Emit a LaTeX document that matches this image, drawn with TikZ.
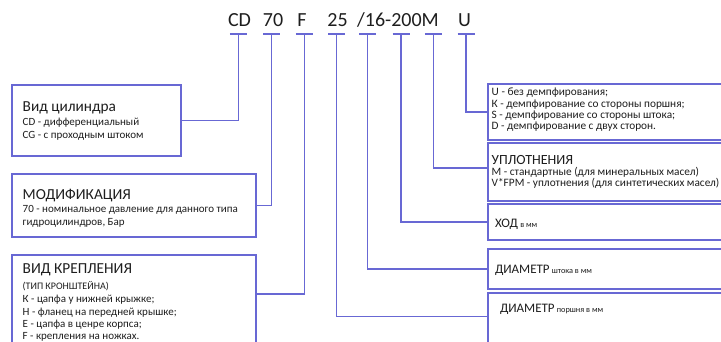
\documentclass[tikz,border=0pt]{standalone}
\usepackage{fontspec}
\setmainfont{Carlito}
\definecolor{linec}{RGB}{104,104,212}
\definecolor{textc}{RGB}{30,30,30}
\tikzset{
  conn/.style={draw=linec,line width=1.2pt},
  boxc/.style={draw=linec,line width=1.2pt,fill=white,inner sep=0pt,outer sep=0pt,anchor=north west},
  txt/.style={anchor=base west,inner sep=0pt,outer sep=0pt,text=textc},
  codet/.style={anchor=base,inner sep=0pt,text=textc,font=\fontsize{20}{24}\selectfont},
  big/.style={txt,font=\fontsize{15.3}{18}\selectfont},
  mid/.style={txt,font=\fontsize{14}{17}\selectfont},
  sml/.style={txt,font=\fontsize{11}{13}\selectfont},
  note/.style={txt,font=\fontsize{10}{12}\selectfont},
  rsml/.style={txt,font=\fontsize{11.3}{13}\selectfont},
  hd/.style={txt,font=\fontsize{13}{15}\selectfont},
}
\begin{document}
\begin{tikzpicture}[x=1pt,y=-1pt]
\clip (0,0) rectangle (721,342);
\fill[white] (0,0) rectangle (721,342);
% code
\node[codet] (cCD) at (239.5,26.7) {CD};
\node[codet] (c70) at (273,26.7) {70};
\node[codet] (cF) at (302,26.7) {F};
\node[codet] (c25) at (337.5,26.7) {25};
\node[codet,anchor=base west] (cM) at (357,26.7) {/16-200M};
\node[codet] (cU) at (464.5,26.7) {U};
% ticks
\coordinate (t1) at (238.3,34);
\coordinate (t2) at (271.7,34);
\coordinate (t3) at (304.3,34);
\coordinate (t4) at (336.7,34);
\coordinate (t5) at (367.7,34);
\coordinate (t6) at (401,34);
\coordinate (t7) at (433.3,34);
\coordinate (t8) at (466,34);
\foreach \t in {t1,t2,t3,t4,t5,t6,t7,t8}
  \draw[conn] ([xshift=-8.5pt]\t) -- ([xshift=8.5pt]\t);
% left boxes
\node[boxc,minimum width=169pt,minimum height=71pt] (b1) at (12,85) {};
\node[boxc,minimum width=244pt,minimum height=63pt] (b2) at (12,174) {};
\node[boxc,minimum width=244pt,minimum height=95pt] (b3) at (12,255) {};
% right boxes
\node[boxc,minimum width=250pt,minimum height=56pt] (bu) at (488,84) {};
\node[boxc,minimum width=250pt,minimum height=58pt] (bupl) at (488,143) {};
\node[boxc,minimum width=250pt,minimum height=36pt] (bhod) at (488,204) {};
\node[boxc,minimum width=250pt,minimum height=40pt] (bsh) at (488,249) {};
\node[boxc,minimum width=250pt,minimum height=57pt] (bp) at (488,293) {};
% connectors
\draw[conn] (t1) |- (b1.east);
\draw[conn] (t2) |- (b2.east);
\draw[conn] (t3) |- ([yshift=8.5pt]b3.east);
\draw[conn] (t4) |- ([yshift=4.8pt]bp.west);
\draw[conn] (t5) |- (bsh.west);
\draw[conn] (t6) |- (bhod.west);
\draw[conn] (t7) |- ([yshift=4pt]bupl.west);
\draw[conn] (t8) |- (bu.west);
% box 1 text
\node[big] (b1h) at (22.7,112) {Вид цилиндра};
\node[sml] (b1a) at (22.7,125.7) {CD - дифференциальный};
\node[sml] (b1b) at (22.7,138.5) {CG - с проходным штоком};
% box 2 text
\node[big] (b2h) at (22.7,200) {МОДИФИКАЦИЯ};
\node[sml] (b2a) at (22.7,212.7) {70 - номинальное давление для данного типа};
\node[sml] (b2b) at (22.7,225.7) {гидроцилиндров, Бар};
% box 3 text
\node[big] (b3h) at (22.7,273.3) {ВИД КРЕПЛЕНИЯ};
\node[note] (b3a) at (22.7,289) {(ТИП КРОНШТЕЙНА)};
\node[sml] (b3b) at (22.7,302.7) {К - цапфа у нижней крыжке;};
\node[sml] (b3c) at (22.7,315.3) {Н - фланец на передней крышке;};
\node[sml] (b3d) at (22.7,327.7) {Е - цапфа в ценре корпса;};
\node[sml] (b3e) at (22.7,339.3) {F - крепления на ножках.};
% U box text
\node[rsml] (bua) at (491.7,96) {U - без демпфирования;};
\node[rsml] (bub) at (491.7,107.2) {К - демпфирование со стороны поршня;};
\node[rsml] (buc) at (491.7,118.4) {S - демпфирование со стороны штока;};
\node[rsml] (bud) at (491.7,129.5) {D - демпфирование с двух сторон.};
% УПЛОТНЕНИЯ
\node[mid] (buh) at (491.7,165) {УПЛОТНЕНИЯ};
\node[rsml] (bupa) at (491.7,176) {M - стандартные (для минеральных масел)};
\node[rsml] (bupb) at (491.7,187) {V*FPM - уплотнения (для синтетических масел)};
% ХОД, ДИАМЕТР
\node[hd] (bhh) at (495,228) {ХОД\,\fontsize{8.3}{10}\selectfont в мм};
\node[hd] (bshh) at (495,273) {ДИАМЕТР\,\fontsize{8.3}{10}\selectfont штока в мм};
\node[hd] (bph) at (500,312) {ДИАМЕТР\,\fontsize{8.3}{10}\selectfont поршня в мм};
\end{tikzpicture}
\end{document}
